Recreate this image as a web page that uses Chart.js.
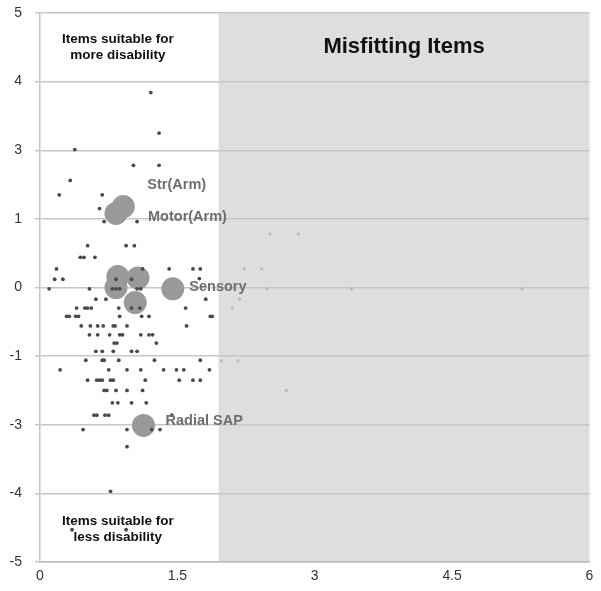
<!DOCTYPE html>
<html>
<head>
<meta charset="utf-8">
<script src="https://cdn.jsdelivr.net/npm/chart.js@4/dist/chart.umd.min.js"></script>
<style>
  body { margin: 0; background: #fff; }
  #wrap { width: 601px; height: 591px; }
</style>
</head>
<body>
<div id="wrap"><canvas id="myChart"></canvas></div>
<script>
/*==== data ====*/
// fitting items (dark dots)
const fitX = [
    1.21, 1.30, 0.38, 1.02, 1.30, 0.33, 0.21, 0.68, 0.65, 0.70, 1.06,
    0.52, 0.94, 1.03, 0.44, 0.48, 0.60,
    0.18, 1.12, 1.41, 1.67, 1.75,
    0.16, 0.25, 0.83, 1.00, 1.74,
    0.10, 0.54, 0.79, 0.83, 0.87, 1.06, 1.10,
    0.61, 0.72, 1.81,
    0.40, 0.49, 0.52, 0.56, 0.86, 1.00, 1.09, 1.59,
    0.29, 0.32, 0.39, 0.42, 0.87, 1.11, 1.19, 1.86, 1.88,
    0.45, 0.55, 0.63, 0.69, 0.80, 0.82, 0.95, 1.60,
    0.54, 0.63, 0.76, 0.87, 0.90, 1.10, 1.19, 1.23,
    0.81, 0.84, 1.27,
    0.61, 0.68, 0.80, 1.00, 1.06,
    0.50, 0.68, 0.70, 0.86, 1.25, 1.75,
    0.22, 0.75, 0.95, 1.10, 1.35, 1.49, 1.57, 1.85,
    0.52, 0.62, 0.65, 0.68, 0.77, 0.80, 1.15, 1.52, 1.67, 1.75,
    0.70, 0.73, 0.83, 0.95, 1.12,
    0.79, 0.85, 1.00, 1.16,
    0.59, 0.62, 0.71, 0.75, 1.44,
    0.47, 0.95, 1.22, 1.31,
    0.95, 0.77, 0.35, 0.94
];
const fitY = [
    2.84, 2.25, 2.01, 1.78, 1.78, 1.56, 1.35, 1.35, 1.15, 0.96, 0.96,
    0.61, 0.61, 0.61, 0.44, 0.44, 0.44,
    0.27, 0.27, 0.27, 0.27, 0.27,
    0.12, 0.12, 0.12, 0.12, 0.13,
    -0.02, -0.02, -0.02, -0.02, -0.02, -0.02, -0.02,
    -0.17, -0.17, -0.17,
    -0.30, -0.30, -0.30, -0.30, -0.30, -0.30, -0.30, -0.30,
    -0.42, -0.42, -0.42, -0.42, -0.42, -0.42, -0.42, -0.42, -0.42,
    -0.56, -0.56, -0.56, -0.56, -0.56, -0.56, -0.56, -0.56,
    -0.69, -0.69, -0.69, -0.69, -0.69, -0.69, -0.69, -0.69,
    -0.81, -0.81, -0.81,
    -0.93, -0.93, -0.93, -0.93, -0.93,
    -1.06, -1.06, -1.06, -1.06, -1.06, -1.06,
    -1.20, -1.20, -1.20, -1.20, -1.20, -1.20, -1.20, -1.20,
    -1.35, -1.35, -1.35, -1.35, -1.35, -1.35, -1.35, -1.35, -1.35, -1.35,
    -1.50, -1.50, -1.50, -1.50, -1.50,
    -1.68, -1.68, -1.68, -1.68,
    -1.86, -1.86, -1.86, -1.86, -1.86,
    -2.07, -2.07, -2.07, -2.07,
    -2.32, -2.97, -3.53, -3.53
];
// misfitting items (light dots)
const misfitX = [2.51, 2.82, 2.23, 2.42, 2.48, 3.40, 5.26, 2.18, 2.10, 1.98, 2.16, 2.69];
const misfitY = [0.78, 0.78, 0.27, 0.27, -0.02, -0.02, -0.02, -0.17, -0.30, -1.07, -1.07, -1.50];
// highlighted items (big circles)
const bigX = [0.91, 0.83, 0.85, 1.07, 0.83, 1.04, 1.45, 1.13];
const bigY = [1.18, 1.08, 0.16, 0.14, 0.00, -0.22, -0.02, -2.01];
const bigNames = ['Str(Arm)', 'Motor(Arm)', '', '', '', '', 'Sensory', 'Radial SAP'];
// axes
const xTickValues = [0, 1.5, 3, 4.5, 6];
const yTickLabels = ['-5', '-4', '-3', '-1', '0', '1', '3', '4', '5'];
const misfitFrom = 1.95;

function toPoints(xs, ys) {
    return xs.map((x, i) => ({ x: x, y: ys[i] }));
}

const FONT = "Helvetica, Arial, 'Liberation Sans', sans-serif";

/*==== plugins ====*/
const misfitZone = {
    id: 'misfitZone',
    beforeDraw(chart) {
        const { ctx, chartArea, scales } = chart;
        const x0 = scales.x.getPixelForValue(misfitFrom);
        ctx.save();
        ctx.fillStyle = '#dedede';
        ctx.fillRect(x0, chartArea.top, chartArea.right - x0, chartArea.bottom - chartArea.top);
        ctx.restore();
    },
    afterDatasetsDraw(chart) {
        const { ctx, chartArea, scales } = chart;
        const x0 = scales.x.getPixelForValue(misfitFrom);
        ctx.save();
        ctx.textAlign = 'center';
        ctx.textBaseline = 'middle';
        ctx.fillStyle = '#111';
        ctx.font = 'bold 22px ' + FONT;
        ctx.fillText('Misfitting Items', (x0 + chartArea.right) / 2, 47);

        const cx = scales.x.getPixelForValue(0.85);
        ctx.font = 'bold 13.5px ' + FONT;
        ctx.fillText('Items suitable for', cx, 39);
        ctx.fillText('more disability', cx, 55);
        ctx.fillText('Items suitable for', cx, 521);
        ctx.fillText('less disability', cx, 537);

        // labels for big circles
        const offsets = {
            'Str(Arm)': [24, -22],
            'Motor(Arm)': [32, 3.5],
            'Sensory': [16.5, -2],
            'Radial SAP': [22, -4.5]
        };
        ctx.textAlign = 'left';
        ctx.fillStyle = '#6e6e6e';
        ctx.font = 'bold 14.5px ' + FONT;
        bigNames.forEach((name, i) => {
            if (!name) return;
            const px = scales.x.getPixelForValue(bigX[i]);
            const py = scales.y.getPixelForValue(bigY[i]);
            const off = offsets[name];
            ctx.fillText(name, px + off[0], py + off[1]);
        });
        ctx.restore();
    }
};

/*=== config ====*/
const config = {
    type: 'scatter',
    data: {
        datasets: [
            {
                label: 'Fitting',
                data: toPoints(fitX, fitY),
                pointRadius: 1.9,
                pointBackgroundColor: '#4a4a4a',
                pointBorderWidth: 0,
                order: 1
            },
            {
                label: 'Misfitting',
                data: toPoints(misfitX, misfitY),
                pointRadius: 1.6,
                pointBackgroundColor: '#b9b9b9',
                pointBorderWidth: 0,
                order: 2
            },
            {
                label: 'Highlighted',
                data: toPoints(bigX, bigY),
                pointRadius: 11.5,
                pointBackgroundColor: '#999999',
                pointBorderWidth: 0,
                order: 3
            }
        ]
    },
    options: {
        responsive: true,
        maintainAspectRatio: false,
        animation: false,
        events: [],
        layout: { padding: 0 },
        plugins: {
            legend: { display: false },
            tooltip: { enabled: false }
        },
        scales: {
            x: {
                type: 'linear',
                min: 0,
                max: 6,
                afterBuildTicks: (scale) => {
                    scale.ticks = xTickValues.map(v => ({ value: v }));
                },
                afterFit: (scale) => {
                    scale.height = 29;
                    scale.paddingRight = 8;
                    scale.paddingLeft = 0;
                },
                grid: { display: false, drawTicks: false },
                border: { display: true, color: '#bdbdbd', width: 1.5 },
                ticks: {
                    padding: 6,
                    color: '#333',
                    font: { family: FONT, size: 14 },
                    maxRotation: 0,
                    callback: (v) => String(v)
                }
            },
            y: {
                type: 'linear',
                min: -4,
                max: 4,
                afterFit: (scale) => {
                    scale.width = 40;
                    scale.paddingTop = 13;
                    scale.paddingBottom = 8;
                },
                grid: {
                    color: '#c6c6c6',
                    lineWidth: 1.5,
                    tickLength: 5
                },
                border: { display: true, color: '#c6c6c6', width: 1.5 },
                ticks: {
                    stepSize: 1,
                    padding: 13,
                    color: '#333',
                    font: { family: FONT, size: 14 },
                    callback: (v) => yTickLabels[Math.round(v) + 4]
                }
            }
        }
    },
    plugins: [misfitZone]
};

/*===== render graphic =====*/
const myChart = new Chart(document.getElementById('myChart'), config);
</script>
</body>
</html>
